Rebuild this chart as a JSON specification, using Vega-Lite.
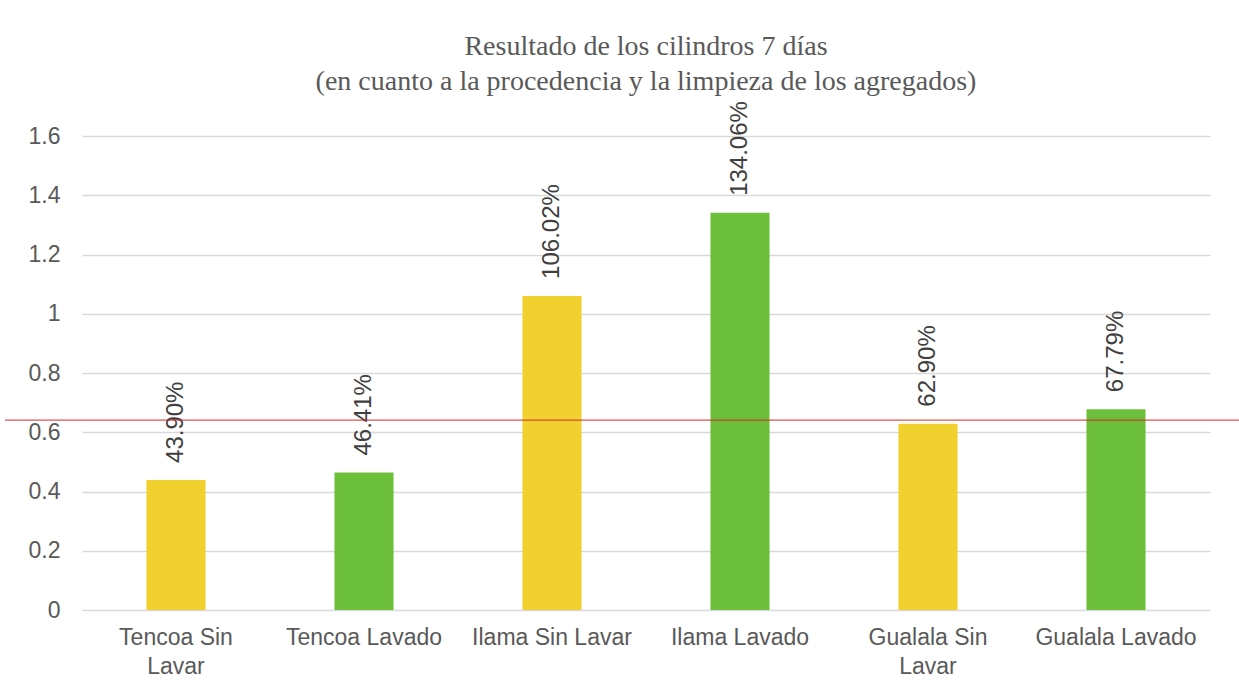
{
  "$schema": "https://vega.github.io/schema/vega-lite/v6.json",
  "width": 1128,
  "height": 474,
  "autosize": "none",
  "padding": {"left": 82, "top": 136, "right": 29, "bottom": 90},
  "background": "white",
  "title": {
    "text": ["Resultado de los cilindros 7 días", "(en cuanto a la procedencia y la limpieza de los agregados)"],
    "font": "Liberation Serif",
    "fontSize": 28,
    "fontWeight": "normal",
    "color": "#595959",
    "lineHeight": 35,
    "offset": 5,
    "anchor": "middle"
  },
  "datasets": {
    "bars": [
      {"grupo": "Tencoa Sin Lavar", "tipo": "Sin Lavar", "valor": 0.439},
      {"grupo": "Tencoa Lavado", "tipo": "Lavado", "valor": 0.4641},
      {"grupo": "Ilama Sin Lavar", "tipo": "Sin Lavar", "valor": 1.0602},
      {"grupo": "Ilama Lavado", "tipo": "Lavado", "valor": 1.3406},
      {"grupo": "Gualala Sin Lavar", "tipo": "Sin Lavar", "valor": 0.629},
      {"grupo": "Gualala Lavado", "tipo": "Lavado", "valor": 0.6779}
    ],
    "ref": [{"ref": 0.641, "desde": 0, "hasta": 1}]
  },
  "layer": [
    {
      "data": {"name": "bars"},
      "encoding": {
        "x": {
          "field": "grupo", "type": "nominal", "sort": null,
          "scale": {"paddingInner": 0.686, "paddingOuter": 0.343},
          "axis": {
            "title": null, "labelAngle": 0, "domain": false, "ticks": false,
            "labelFont": "Liberation Sans", "labelFontSize": 23, "labelColor": "#595959",
            "labelPadding": 16, "labelLimit": 300, "labelLineHeight": 29,
            "labelExpr": "datum.label == 'Tencoa Sin Lavar' ? ['Tencoa Sin', 'Lavar'] : datum.label == 'Gualala Sin Lavar' ? ['Gualala Sin', 'Lavar'] : datum.label"
          }
        },
        "y": {
          "field": "valor", "type": "quantitative",
          "scale": {"domain": [0, 1.6], "nice": false},
          "axis": {
            "title": null, "values": [0, 0.2, 0.4, 0.6, 0.8, 1, 1.2, 1.4, 1.6],
            "format": "~g",
            "domain": false, "ticks": false,
            "labelFont": "Liberation Sans", "labelFontSize": 23, "labelColor": "#595959",
            "labelPadding": 22, "gridColor": "#d9d9d9", "gridWidth": 1.5
          }
        }
      },
      "layer": [
        {
          "mark": {"type": "bar"},
          "encoding": {
            "color": {
              "field": "tipo", "type": "nominal",
              "scale": {"domain": ["Sin Lavar", "Lavado"], "range": ["#F0D12F", "#6CBF3A"]},
              "legend": null
            }
          }
        },
        {
          "mark": {"type": "text", "angle": 270, "align": "left", "baseline": "middle", "dx": 17, "font": "Liberation Sans", "fontSize": 24, "color": "#404040"},
          "encoding": {
            "text": {"field": "valor", "type": "quantitative", "format": ".2%"}
          }
        }
      ]
    },
    {
      "data": {"name": "ref"},
      "mark": {"type": "rule", "color": "#D42A26", "strokeWidth": 1, "clip": false},
      "encoding": {
        "x": {"field": "desde", "type": "quantitative", "scale": {"domain": [0, 1], "range": [-77, 1157]}, "axis": null},
        "x2": {"field": "hasta"},
        "y": {"field": "ref", "type": "quantitative"}
      }
    }
  ],
  "resolve": {"scale": {"x": "independent"}, "axis": {"x": "independent"}},
  "config": {"view": {"stroke": null}}
}
